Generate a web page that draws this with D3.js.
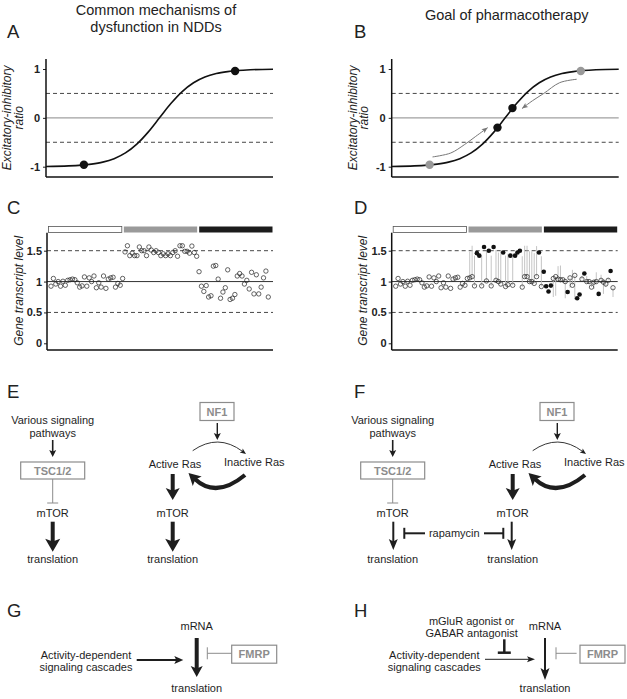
<!DOCTYPE html>
<html>
<head>
<meta charset="utf-8">
<script src="https://cdn.jsdelivr.net/npm/d3@7"></script>
<style>
  body { margin: 0; background: #fff; }
  svg { display: block; font-family: "Liberation Sans", Arial, Helvetica, sans-serif; }
</style>
</head>
<body>
<svg id="fig" width="627" height="699"></svg>
<script>
// ---- data ----
// sigmoid (E/I ratio vs. drive), sampled by eye, drive in 0-100 units
const driveX = [0, 10, 20, 25, 30, 35, 40, 45, 50, 55, 60, 65, 70, 75, 80, 90, 100];
const ratioY = [-0.995, -0.984, -0.947, -0.906, -0.835, -0.718, -0.538, -0.292, 0,
                0.292, 0.538, 0.718, 0.835, 0.906, 0.947, 0.984, 0.995];
const ratioTicks = [-1, 0, 1];
const ratioDashes = [-0.5, 0.5];
const diseaseStates = [[16.7, -0.96], [83.3, 0.96]];
const treatedStates = [[46.6, -0.2], [53.2, 0.2]];
const shiftUp = [[18, -0.8], [26, -0.72], [32, -0.55], [37, -0.38], [42.3, -0.2]];
const shiftDown = [[81.5, 0.79], [74, 0.72], [67, 0.5], [62, 0.35], [57.4, 0.19]];

// gene transcript levels, three groups of genes
const geneGroups = ["normal", "up", "variable"];
const levelTicks = [0, 0.5, 1, 1.5];
const levelDashes = [0.5, 1.5];
const normalLevels = [0.925, 1.05, 0.96, 1.0, 0.925, 1.005, 0.94, 1.02, 1.03, 1.04, 1.03, 0.98, 0.91,
  0.93, 1.075, 0.925, 1.06, 1.0, 1.09, 0.9, 0.98, 0.91, 1.09, 0.89, 1.04, 1.06, 1.07, 0.91, 0.97, 0.94, 1.05];
const upLevels = [1.48, 1.58, 1.42, 1.46, 1.42, 1.42, 1.56, 1.5, 1.5, 1.42, 1.56, 1.51, 1.47, 1.5, 1.47,
  1.42, 1.45, 1.42, 1.45, 1.42, 1.47, 1.5, 1.41, 1.58, 1.58, 1.49, 1.49, 1.46, 1.575, 1.47, 1.41];
const variableLevels = [1.16, 0.925, 0.84, 0.935, 0.75, 0.77, 1.25, 1.26, 1.04, 0.73, 0.83, 0.9, 1.19, 0.71,
  0.73, 0.79, 1.09, 1.13, 1.09, 0.96, 1.02, 0.88, 1.15, 0.8, 1.11, 0.8, 0.91, 1.06, 1.17, 0.75];
// after treatment (null = gene did not respond)
const upTreated = [1.06, 1.08, 0.93, null, null, 0.93, null, 1.01, null, 0.93, null, 1.02, 1.0, 0.96, null,
  0.92, 0.95, null, 0.94, null, null, null, 0.91, 1.08, 1.08, 1.0, 1.0, 0.97, 1.08, null, 0.92];
const variableTreated = [null, null, null, null, 1.05, 1.08, 1.04, 1.03, 1.03, 1.0, null, 1.06, 0.94, 1.1,
  null, null, 1.04, null, 1.0, 1.0, 0.91, 0.99, 1.0, null, 1.02, 0.99, 0.96, 1.02, null, 0.9];

const ink = "#1e1e1e";
const grey = "#8c8c8c";
const svg = d3.select("#fig");

function label(g, x, y, str, o = {}) {
  return g.append("text").attr("x", x).attr("y", y)
    .attr("text-anchor", o.anchor || "middle")
    .attr("font-size", o.size || 11)
    .attr("font-weight", o.weight || null)
    .attr("font-style", o.italic ? "italic" : null)
    .attr("fill", o.fill || ink).text(str);
}

function head(g, tip, ux, uy, hw, hl, color) {
  const bx = tip[0] - ux * hl, by = tip[1] - uy * hl;
  const nx = bx + ux * hl * 0.22, ny = by + uy * hl * 0.22;
  g.append("path")
    .attr("d", `M${tip[0]},${tip[1]}L${bx - uy * hw / 2},${by + ux * hw / 2}L${nx},${ny}L${bx + uy * hw / 2},${by - ux * hw / 2}Z`)
    .attr("fill", color);
}

function arrow(g, x1, y1, x2, y2, w, hw, hl, color = ink) {
  const len = Math.hypot(x2 - x1, y2 - y1), ux = (x2 - x1) / len, uy = (y2 - y1) / len;
  g.append("line").attr("x1", x1).attr("y1", y1)
    .attr("x2", x2 - ux * hl * 0.7).attr("y2", y2 - uy * hl * 0.7)
    .attr("stroke", color).attr("stroke-width", w);
  head(g, [x2, y2], ux, uy, hw, hl, color);
}

function curvedArrow(g, p0, c, tip, w, hw, hl, color = ink) {
  const len = Math.hypot(tip[0] - c[0], tip[1] - c[1]);
  const ux = (tip[0] - c[0]) / len, uy = (tip[1] - c[1]) / len;
  const p = d3.path();
  p.moveTo(p0[0], p0[1]);
  p.quadraticCurveTo(c[0], c[1], tip[0] - ux * hl * 0.7, tip[1] - uy * hl * 0.7);
  g.append("path").attr("d", p.toString()).attr("fill", "none")
    .attr("stroke", color).attr("stroke-width", w);
  head(g, tip, ux, uy, hw, hl, color);
}

function inhibit(g, x1, y1, x2, y2, w, bar, color = ink) {
  const len = Math.hypot(x2 - x1, y2 - y1), ux = (x2 - x1) / len, uy = (y2 - y1) / len;
  g.append("line").attr("x1", x1).attr("y1", y1).attr("x2", x2).attr("y2", y2)
    .attr("stroke", color).attr("stroke-width", w);
  g.append("line")
    .attr("x1", x2 - uy * bar / 2).attr("y1", y2 + ux * bar / 2)
    .attr("x2", x2 + uy * bar / 2).attr("y2", y2 - ux * bar / 2)
    .attr("stroke", color).attr("stroke-width", w);
}

function box(g, cx, cy, w, h, str) {
  g.append("rect").attr("x", cx - w / 2).attr("y", cy - h / 2).attr("width", w).attr("height", h)
    .attr("fill", "#fff").attr("stroke", grey).attr("stroke-width", 1.2);
  label(g, cx, cy + 4, str, { weight: "bold", fill: grey });
}

// ---- titles and panel letters ----
label(svg, 156, 14.5, "Common mechanisms of", { size: 14.5, fill: "#222" });
label(svg, 156, 32, "dysfunction in NDDs", { size: 14.5, fill: "#222" });
label(svg, 506.7, 20, "Goal of pharmacotherapy", { size: 14.5, fill: "#222" });
[["A", 7, 38], ["B", 354, 38], ["C", 7, 214], ["D", 354, 214],
 ["E", 7, 398], ["F", 354, 398], ["G", 7, 617], ["H", 354, 617]]
  .forEach(([t, x, y]) => label(svg, x, y, t, { size: 18.5, anchor: "start", fill: "#222" }));

// ---- A / B: E/I ratio sigmoid ----
function ratioPanel(ox, therapy) {
  const g = svg.append("g");
  const x = d3.scaleLinear().domain([0, 100]).range([ox, ox + 227]);
  const y = d3.scaleLinear().domain([-1, 1]).range([166.7, 69]);

  g.selectAll(".dash").data(ratioDashes).join("line")
    .attr("x1", x(0)).attr("x2", x(100)).attr("y1", y).attr("y2", y)
    .attr("stroke", "#333").attr("stroke-width", 0.9).attr("stroke-dasharray", "4,3");
  g.append("line").attr("x1", x(0)).attr("x2", x(100)).attr("y1", y(0)).attr("y2", y(0))
    .attr("stroke", "#a0a0a0").attr("stroke-width", 1.3);

  const ax = g.append("g").attr("transform", `translate(${ox},0)`)
    .call(d3.axisLeft(y).tickValues(ratioTicks).tickSize(3).tickPadding(3).tickSizeOuter(0)
      .tickFormat(d => String(d)));
  ax.select(".domain").remove();
  ax.selectAll("text").attr("font-size", 11).attr("font-weight", "bold").attr("fill", "#222")
    .attr("font-family", "Liberation Sans, Arial, sans-serif");
  ax.selectAll("line").attr("stroke", "#222");
  g.append("line").attr("x1", ox).attr("x2", ox).attr("y1", 59).attr("y2", 177)
    .attr("stroke", "#111").attr("stroke-width", 1.5);
  g.append("line").attr("x1", ox).attr("x2", x(100)).attr("y1", 177).attr("y2", 177)
    .attr("stroke", "#111").attr("stroke-width", 1.5);

  const t = g.append("text").attr("transform", `translate(${ox - 35},${y(0)}) rotate(-90)`)
    .attr("text-anchor", "middle").attr("font-size", 12).attr("font-style", "italic").attr("fill", "#222");
  t.append("tspan").attr("x", 0).attr("y", 0).text("Excitatory-inhibitory");
  t.append("tspan").attr("x", 0).attr("y", 11.5).text("ratio");

  const line = d3.line().x(d => x(d[0])).y(d => y(d[1])).curve(d3.curveMonotoneX);
  g.append("path").datum(d3.zip(driveX, ratioY)).attr("d", line)
    .attr("fill", "none").attr("stroke", "#111").attr("stroke-width", 1.6);

  if (therapy) {
    const gl = d3.line().x(d => x(d[0])).y(d => y(d[1])).curve(d3.curveCatmullRom);
    [shiftUp, shiftDown].forEach(pts => {
      const n = pts.length, a = pts[n - 2], b = pts[n - 1];
      const px = x(b[0]) - x(a[0]), py = y(b[1]) - y(a[1]), l = Math.hypot(px, py);
      const tip = [x(b[0]), y(b[1])];
      g.append("path").datum(pts).attr("d", gl).attr("fill", "none")
        .attr("stroke", "#777").attr("stroke-width", 1);
      head(g, tip, px / l, py / l, 5, 6, "#777");
    });
    g.selectAll(".gdot").data(diseaseStates).join("circle")
      .attr("cx", d => x(d[0])).attr("cy", d => y(d[1])).attr("r", 4.2).attr("fill", "#999");
    g.selectAll(".bdot").data(treatedStates).join("circle")
      .attr("cx", d => x(d[0])).attr("cy", d => y(d[1])).attr("r", 4.2).attr("fill", "#111");
  } else {
    g.selectAll(".bdot").data(diseaseStates).join("circle")
      .attr("cx", d => x(d[0])).attr("cy", d => y(d[1])).attr("r", 4.2).attr("fill", "#111");
  }
}
ratioPanel(46, false);
ratioPanel(391.7, true);

// ---- C / D: gene transcript levels ----
function genes(treated) {
  const rows = [];
  let i = 0;
  normalLevels.forEach(v => rows.push({ i: i++, group: "normal", level: v, after: treated ? v : null }));
  upLevels.forEach((v, j) => rows.push({ i: i++, group: "up", level: v, after: treated ? upTreated[j] : null }));
  variableLevels.forEach((v, j) => rows.push({ i: i++, group: "variable", level: v, after: treated ? variableTreated[j] : null }));
  return rows;
}

function levelPanel(ox, treated) {
  const g = svg.append("g");
  const rows = genes(treated);
  const x = d3.scaleLinear().domain([0, rows.length - 1]).range([ox + 4, ox + 221.3]);
  const y = d3.scaleLinear().domain([0, 1.5]).range([343.3, 250.7]);
  const band = d3.scaleBand().domain(geneGroups).range([ox + 1.5, ox + 225.5]).paddingInner(0.027);
  const fill = d3.scaleOrdinal().domain(geneGroups).range(["#fff", "#9a9a9a", "#1c1c1c"]);

  g.selectAll(".bar").data(geneGroups).join("rect")
    .attr("x", d => band(d)).attr("width", band.bandwidth()).attr("y", 226.5).attr("height", 6)
    .attr("fill", d => fill(d)).attr("stroke", d => d === "normal" ? "#555" : "none").attr("stroke-width", 0.8);

  g.selectAll(".dash").data(levelDashes).join("line")
    .attr("x1", ox).attr("x2", ox + 226).attr("y1", y).attr("y2", y)
    .attr("stroke", "#333").attr("stroke-width", 0.9).attr("stroke-dasharray", "4,3");
  g.append("line").attr("x1", ox).attr("x2", ox + 226).attr("y1", y(1)).attr("y2", y(1))
    .attr("stroke", "#333").attr("stroke-width", 1);

  const ax = g.append("g").attr("transform", `translate(${ox},0)`)
    .call(d3.axisLeft(y).tickValues(levelTicks).tickSize(3).tickPadding(2).tickSizeOuter(0)
      .tickFormat(d => String(d)));
  ax.select(".domain").remove();
  ax.selectAll("text").attr("font-size", 11).attr("font-weight", "bold").attr("fill", "#222")
    .attr("font-family", "Liberation Sans, Arial, sans-serif");
  ax.selectAll("line").attr("stroke", "#222");
  g.append("line").attr("x1", ox).attr("x2", ox).attr("y1", 232.7).attr("y2", 350)
    .attr("stroke", "#111").attr("stroke-width", 1.5);
  g.append("line").attr("x1", ox).attr("x2", ox + 226).attr("y1", 350).attr("y2", 350)
    .attr("stroke", "#111").attr("stroke-width", 1.5);

  label(g, 0, 0, "Gene transcript level", { size: 12, italic: true, fill: "#222" })
    .attr("transform", `translate(${ox - 24.5},${y(0.85)}) rotate(-90)`);

  if (treated) {
    const moved = rows.filter(d => d.group !== "normal" && d.after !== null);
    g.selectAll(".move").data(moved).join("line")
      .attr("x1", d => x(d.i)).attr("x2", d => x(d.i))
      .attr("y1", d => y(d.level)).attr("y2", d => y(d.after))
      .attr("stroke", "#bdbdbd").attr("stroke-width", 0.9);
    g.selectAll(".open").data(rows.filter(d => d.after !== null)).join("circle")
      .attr("cx", d => x(d.i)).attr("cy", d => y(d.after)).attr("r", 2.2)
      .attr("fill", "none").attr("stroke", "#222").attr("stroke-width", 0.7);
    g.selectAll(".solid").data(rows.filter(d => d.after === null)).join("circle")
      .attr("cx", d => x(d.i)).attr("cy", d => y(d.level)).attr("r", 2.3)
      .attr("fill", "#111");
  } else {
    g.selectAll(".open").data(rows).join("circle")
      .attr("cx", d => x(d.i)).attr("cy", d => y(d.level)).attr("r", 2.2)
      .attr("fill", "none").attr("stroke", "#222").attr("stroke-width", 0.7);
  }
}
levelPanel(47, false);
levelPanel(391.7, true);

// ---- E / F: mTOR and Ras pathways ----
function pathwayPanel(ox, rapamycin) {
  const g = svg.append("g");
  const L = ox + 52.7, R = ox + 172.7;
  label(g, L, 424, "Various signaling");
  label(g, L, 436.5, "pathways");
  arrow(g, L, 440, L, 457, 1.6, 7, 7);
  box(g, L, 470.5, 64, 17, "TSC1/2");
  inhibit(g, L, 479, L, 503, 1, 11, grey);
  label(g, L, 516.6, "mTOR");
  label(g, L, 563, "translation");

  box(g, ox + 217, 411.5, 34, 18, "NF1");
  arrow(g, ox + 217.3, 423, ox + 217.3, 440, 1.4, 7, 7);
  curvedArrow(g, [ox + 192.7, 450.7], [ox + 218, 433], [ox + 246, 454], 0.9, 5, 6);
  label(g, R + 2.3, 468, "Active Ras");
  label(g, ox + 254.3, 465.7, "Inactive Ras");
  curvedArrow(g, [ox + 245, 475], [ox + 216, 499], [ox + 188.5, 473], 4.2, 13, 12);
  arrow(g, R, 474, R, 500, 4, 14, 12);
  label(g, R, 516.6, "mTOR");
  label(g, R, 563, "translation");

  if (rapamycin) {
    arrow(g, L + 0.6, 521.7, L + 0.6, 550, 2, 9, 11);
    arrow(g, R - 1, 521.7, R - 1, 550, 2, 9, 11);
    label(g, ox + 114.3, 537.3, "rapamycin");
    inhibit(g, ox + 85, 533.3, ox + 64.3, 533.3, 2, 11);
    inhibit(g, ox + 144, 533.3, ox + 163.3, 533.3, 2, 11);
  } else {
    arrow(g, L, 521.7, L, 551.7, 4, 15, 13);
    arrow(g, R, 521.7, R, 551.7, 4, 15, 13);
  }
}
pathwayPanel(0, false);
pathwayPanel(340, true);

// ---- G / H: FMRP and translation ----
function fmrpPanel(ox, agonist) {
  const g = svg.append("g");
  const M = ox + 196.7;
  label(g, M, 629.6, "mRNA");
  label(g, M, 692, "translation");
  label(g, ox + 86, 658.5, "Activity-dependent");
  label(g, ox + 86, 671.2, "signaling cascades");
  box(g, ox + 254.2, 654.2, 45, 18, "FMRP");
  if (agonist) {
    arrow(g, M, 638, M, 680, 2, 9, 12);
    arrow(g, ox + 136.7, 659.3, ox + 186.7, 659.3, 1, 6, 8);
    inhibit(g, ox + 228.3, 653.3, ox + 207.7, 653.3, 1, 12, grey);
    label(g, ox + 123.4, 624.5, "mGluR agonist or");
    label(g, ox + 123.4, 637, "GABAR antagonist");
    inhibit(g, ox + 156, 639.3, ox + 156, 652.7, 2.5, 13);
  } else {
    arrow(g, M, 638, M, 677, 4, 12, 11);
    arrow(g, ox + 136.7, 660, ox + 183.3, 660, 2, 8, 9);
    inhibit(g, ox + 231.7, 653.3, ox + 207.3, 653.3, 1, 12, grey);
  }
}
fmrpPanel(0, false);
fmrpPanel(348.3, true);
</script>
</body>
</html>
